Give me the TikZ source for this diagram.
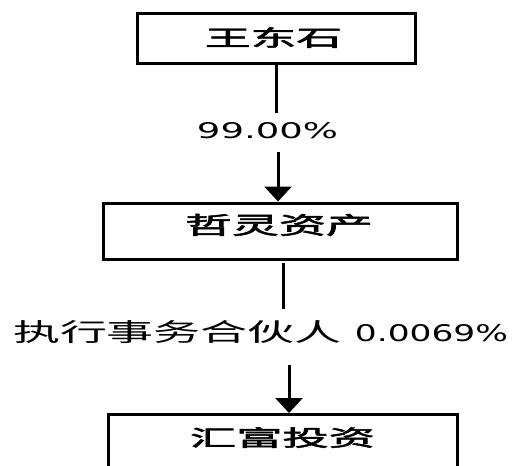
\documentclass[tikz,border=0pt]{standalone}
\usepackage{fontspec}
\usepackage{graphicx}
\usetikzlibrary{arrows.meta}
\newfontfamily\cjk{Noto Sans CJK SC}
\newfontfamily\cjkb[FakeBold=2]{Noto Sans CJK SC}
\newfontfamily\numfont{DejaVu Sans}
\tikzset{
  box/.style={draw, line width=3pt, inner sep=0pt, fill=white},
  txt/.style={inner sep=0pt},
  conn/.style={line width=3pt},
  arr/.style={line width=3pt, -{Triangle[width=27pt,length=15pt]}}
}
\begin{document}
\begin{tikzpicture}[x=1pt,y=-1pt]
\useasboundingbox (0,0) rectangle (520,466);
\clip (0,0) rectangle (520,466);
% boxes
\node[box, minimum width=278pt, minimum height=50pt] (b1) at (276,38) {};
\node[txt] (t1) at (273.5,37.5) {\resizebox{137pt}{19pt}{\cjkb 王东石}};
\node[box, minimum width=354pt, minimum height=56pt] (b2) at (280,231) {};
\node[txt] (t2) at (279,225) {\resizebox{188pt}{20pt}{\cjkb 哲灵资产}};
\node[box, minimum width=349pt, minimum height=80pt, anchor=north] (b3) at (282.5,413) {};
\node[txt] (t3) at (282.5,437.5) {\resizebox{185pt}{19pt}{\cjkb 汇富投资}};
% labels
\node[txt] (l1) at (267.5,131) {\resizebox{141pt}{16pt}{\numfont 99.00\%}};
\node[txt] (l2a) at (177.5,332.5) {\resizebox{329pt}{21pt}{\cjk 执行事务合伙人}};
\node[txt] (l2b) at (431.5,333.5) {\resizebox{153pt}{17pt}{\numfont 0.0069\%}};
% connector coordinates
\coordinate (e1) at (276,113);
\coordinate (a1) at (278,152);
\coordinate (s2) at (283,263);
\coordinate (e2) at (283,309);
\coordinate (a2) at (289,365);
% connectors
\draw[conn] (b1.south) -- (e1);
\draw[arr] (a1) -- (a1 |- b2.north);
\draw[conn] (s2) -- (e2);
\draw[arr] (a2) -- (a2 |- b3.north);
\end{tikzpicture}
\end{document}
